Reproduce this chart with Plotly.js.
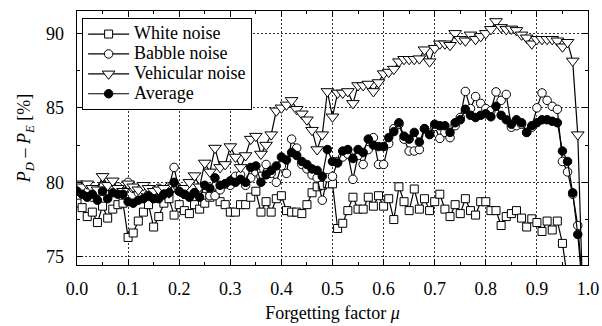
<!DOCTYPE html>
<html>
<head>
<meta charset="utf-8">
<script src="https://cdn.plot.ly/plotly-3.0.1.min.js"></script>
<style>html,body{margin:0;padding:0;background:#fff;}#chart{width:602px;height:326px;}</style>
</head>
<body>
<div id="chart"></div>
<script>
const mu = [0.00,0.01,0.02,0.03,0.04,0.05,0.06,0.07,0.08,0.09,
            0.10,0.11,0.12,0.13,0.14,0.15,0.16,0.17,0.18,0.19,
            0.20,0.21,0.22,0.23,0.24,0.25,0.26,0.27,0.28,0.29,
            0.30,0.31,0.32,0.33,0.34,0.35,0.36,0.37,0.38,0.39,
            0.40,0.41,0.42,0.43,0.44,0.45,0.46,0.47,0.48,0.49,
            0.50,0.51,0.52,0.53,0.54,0.55,0.56,0.57,0.58,0.59,
            0.60,0.61,0.62,0.63,0.64,0.65,0.66,0.67,0.68,0.69,
            0.70,0.71,0.72,0.73,0.74,0.75,0.76,0.77,0.78,0.79,
            0.80,0.81,0.82,0.83,0.84,0.85,0.86,0.87,0.88,0.89,
            0.90,0.91,0.92,0.93,0.94,0.95,0.96,0.97,0.98,0.99];

const whiteNoise = [78.6,78.3,77.7,78.0,77.3,78.4,77.6,78.2,78.5,78.6,
                    76.3,76.6,77.4,78.0,78.5,77.0,77.7,78.6,78.9,77.8,
                    78.5,78.1,77.9,78.5,78.2,78.6,79.0,79.2,78.7,78.5,
                    78.0,78.0,78.5,78.5,79.0,79.4,78.0,78.7,78.0,78.9,
                    79.1,78.1,78.0,78.0,77.9,78.5,79.3,79.7,79.8,79.9,
                    79.9,76.9,77.25,78.1,79.0,78.2,78.2,79.0,78.4,79.1,
                    78.4,78.9,77.5,79.7,78.7,78.1,79.55,78.2,78.9,78.1,
                    78.7,79.2,78.2,77.7,78.5,77.9,78.9,78.1,77.8,78.7,
                    78.7,78.1,78.1,77.1,77.7,77.9,78.1,77.6,77.0,77.55,
                    77.3,76.7,77.4,76.8,77.4,75.9,73.5];

const babbleNoise = [79.5,79.3,79.6,79.0,79.4,79.8,79.2,79.5,79.7,79.4,
                     80.0,79.6,79.3,79.5,79.2,79.4,79.6,79.3,79.7,81.0,
                     79.4,79.2,79.06,79.3,79.5,79.6,79.1,79.1,79.5,79.9,
                     79.8,80.4,80.5,79.8,80.3,80.7,80.4,81.2,80.6,80.0,
                     81.1,80.6,82.9,82.3,81.2,80.9,80.5,80.3,78.8,80.3,
                     80.4,81.4,81.7,81.9,80.2,81.8,81.2,82.2,83.0,81.2,
                     81.2,82.6,83.6,83.9,82.9,82.1,82.1,82.2,83.6,83.3,
                     83.75,82.95,83.35,83.0,83.8,84.35,86.1,84.95,85.76,85.3,
                     84.95,84.8,86.07,85.5,85.9,83.7,83.8,83.9,83.35,83.7,
                     85.0,86.0,85.5,85.1,84.9,81.4,80.7,79.2,77.1,73.0];

const vehicularNoise = [79.9,79.7,79.9,79.6,79.5,80.4,79.8,80.1,79.6,79.4,
                        79.9,79.7,79.5,79.8,79.6,79.4,79.5,79.6,79.3,79.7,
                        79.5,79.6,80.0,80.45,79.7,81.3,80.7,82.3,81.0,81.2,
                        82.4,81.7,81.0,81.8,82.9,83.1,81.9,82.5,83.2,84.8,
                        85.0,85.2,85.5,84.9,84.6,84.2,83.5,82.2,83.2,86.1,
                        84.4,86.0,86.0,86.1,85.3,86.5,86.5,86.6,86.1,86.7,
                        87.3,87.4,87.6,88.1,88.26,88.26,88.26,88.3,88.9,88.1,
                        89.0,89.3,89.3,89.2,90.0,89.6,89.5,89.9,89.6,89.8,
                        90.0,90.27,90.8,90.4,90.27,90.3,90.2,89.9,89.7,89.3,
                        89.6,89.6,89.6,89.6,89.5,89.1,89.4,88.15,83.2,72.0];

const average = [79.4,79.2,79.0,79.2,78.8,79.4,78.9,79.3,79.2,79.2,
                 78.7,78.6,78.8,78.9,79.1,78.9,78.9,79.2,79.3,80.0,
                 79.4,79.2,79.0,79.3,79.0,79.8,79.6,80.3,79.8,79.9,
                 80.1,80.0,80.2,80.0,81.0,81.1,80.0,80.5,80.8,81.1,
                 81.7,81.5,82.0,81.8,81.4,81.2,80.9,80.8,80.4,82.2,
                 81.4,81.3,82.1,82.2,81.6,82.2,82.0,82.9,82.5,82.4,
                 82.4,83.0,83.4,84.0,83.1,82.9,83.35,82.7,83.6,83.2,
                 83.9,83.8,83.8,83.35,84.0,84.2,84.9,84.5,84.35,84.5,
                 84.6,84.4,85.1,84.5,84.2,83.9,84.2,84.0,83.35,83.8,
                 84.0,84.2,84.2,84.1,84.0,82.1,81.4,79.3,76.5,72.5];

const seriesNames = ['White noise', 'Babble noise', 'Vehicular noise', 'Average'];
const xTickVals = [0.0,0.1,0.2,0.3,0.4,0.5,0.6,0.7,0.8,0.9,1.0];
const yTickVals = [75,80,85,90];

const FONT = 'Liberation Serif, Times New Roman, serif';

function mk(name, y, symbol, fill, size) {
  return {
    type: 'scatter', mode: 'lines+markers',
    name: '<span style="font-size:18px">' + name + '</span>',
    x: mu.slice(0, y.length), y: y,
    line: {color: '#000', width: 1.2},
    marker: {symbol: symbol, size: size, color: fill, line: {color: '#000', width: 1}},
    cliponaxis: true
  };
}

const data = [
  mk(seriesNames[0], whiteNoise, 'square', '#fff', 8),
  mk(seriesNames[1], babbleNoise, 'circle', '#fff', 8.5),
  mk(seriesNames[2], vehicularNoise, 'triangle-down', '#fff', 11),
  mk(seriesNames[3], average, 'circle', '#000', 8.5)
];

const axisCommon = {
  showline: true, linecolor: '#000', linewidth: 1.3, mirror: 'allticks',
  ticks: 'inside', ticklen: 6, tickwidth: 1, tickcolor: '#000',
  showgrid: true, gridcolor: '#000', gridwidth: 0.8, griddash: '2px,2px',
  zeroline: false,
  tickfont: {family: FONT, size: 18, color: '#000'}
};

const layout = {
  width: 602, height: 326,
  margin: {l: 77, r: 14, t: 11, b: 61},
  paper_bgcolor: '#fff', plot_bgcolor: '#fff',
  font: {family: FONT, size: 18, color: '#000'},
  showlegend: true,
  legend: {
    x: 0.01, y: 0.972, xanchor: 'left', yanchor: 'top',
    bgcolor: '#fff', bordercolor: '#000', borderwidth: 1,
    font: {family: FONT, size: 13, color: '#000'},
    tracegroupgap: 0, itemwidth: 41
  },
  xaxis: Object.assign({}, axisCommon, {
    range: [0, 1], tickmode: 'array', tickvals: xTickVals,
    ticktext: xTickVals.map(v => v.toFixed(1)),
    ticklabelstandoff: 7,
    minor: {dtick: 0.05, tick0: 0, ticks: 'inside', ticklen: 3, tickcolor: '#000', showgrid: false},
    title: {text: 'Forgetting factor <i>μ</i>', font: {family: FONT, size: 18, color: '#000'}, standoff: 8}
  }),
  yaxis: Object.assign({}, axisCommon, {
    range: [74.45, 91.5], tickmode: 'array', tickvals: yTickVals,
    ticklabelstandoff: 8,
    minor: {dtick: 2.5, tick0: 75, ticks: 'inside', ticklen: 3, tickcolor: '#000', showgrid: false},
    title: {text: '<i>P</i><sub><i>D</i></sub> – <i>P</i><sub><i>E</i></sub> [%]', font: {family: FONT, size: 18, color: '#000'}, standoff: 10}
  })
};

Plotly.newPlot('chart', data, layout, {displayModeBar: false, staticPlot: true});
</script>
</body>
</html>
